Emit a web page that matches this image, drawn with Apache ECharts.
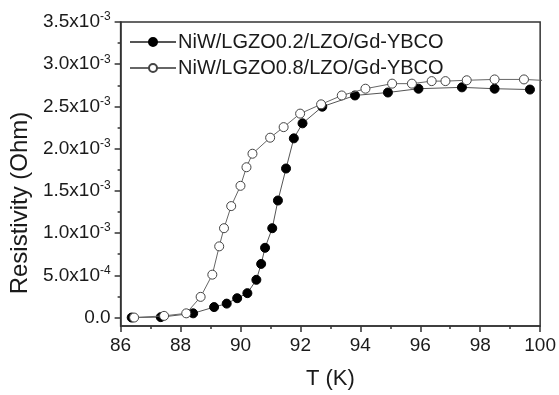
<!DOCTYPE html>
<html>
<head>
<meta charset="utf-8">
<script src="https://cdn.jsdelivr.net/npm/echarts@6/dist/echarts.min.js"></script>
<style>
  html, body { margin: 0; padding: 0; background: #fff; }
  #chart { width: 559px; height: 395px; }
</style>
</head>
<body>
<div id="chart"></div>
<script>
// 数据：温度 (K) 与电阻率 (Ohm)
const seriesNames = ["NiW/LGZO0.2/LZO/Gd-YBCO", "NiW/LGZO0.8/LZO/Gd-YBCO"];

const tempA = [86.37, 87.34, 88.42, 89.12, 89.54, 89.89, 90.23, 90.53, 90.69, 90.82, 91.06,
  91.25, 91.52, 91.78, 92.07, 92.73, 93.82, 94.92, 95.94, 97.39, 98.48, 99.66];
const resA = [0.0, 0.005e-3, 0.05e-3, 0.124e-3, 0.165e-3, 0.229e-3, 0.289e-3, 0.447e-3, 0.635e-3,
  0.826e-3, 1.058e-3, 1.386e-3, 1.765e-3, 2.122e-3, 2.30e-3, 2.497e-3, 2.63e-3, 2.665e-3,
  2.71e-3, 2.726e-3, 2.71e-3, 2.70e-3];

const tempB = [86.45, 87.45, 88.19, 88.67, 89.06, 89.29, 89.45, 89.69, 90.0, 90.2, 90.4, 90.99,
  91.44, 91.99, 92.69, 93.38, 94.17, 95.06, 95.72, 96.38, 96.84, 97.55, 98.48, 99.46, 100.6];
const resB = [0.0, 0.02e-3, 0.05e-3, 0.245e-3, 0.508e-3, 0.843e-3, 1.058e-3, 1.32e-3, 1.56e-3,
  1.78e-3, 1.94e-3, 2.13e-3, 2.255e-3, 2.415e-3, 2.525e-3, 2.63e-3, 2.71e-3, 2.77e-3, 2.77e-3,
  2.80e-3, 2.80e-3, 2.81e-3, 2.82e-3, 2.82e-3, 2.80e-3];

// 刻度
const yTicks = [0, 0.5e-3, 1.0e-3, 1.5e-3, 2.0e-3, 2.5e-3, 3.0e-3, 3.5e-3];
const yMinorTicks = [0.25e-3, 0.75e-3, 1.25e-3, 1.75e-3, 2.25e-3, 2.75e-3, 3.25e-3];

const FONT = 'Arial, "Liberation Sans", sans-serif';
const TEXT = "#1a1a1a";
const FRAME = "#333";

function pairs(xs, ys) {
  return xs.map((x, i) => [x, ys[i]]);
}

// 科学计数法标签，例如 3.5x10^-3
function sciLabel(v) {
  if (Math.abs(v) < 1e-12) return "{m|0.0}";
  let exp = Math.floor(Math.log10(Math.abs(v)) + 1e-9);
  const mant = v / Math.pow(10, exp);
  return "{m|" + mant.toFixed(1) + "x10}{e|" + exp + "}";
}

const chart = echarts.init(document.getElementById("chart"), null, { renderer: "canvas" });

const option = {
  backgroundColor: "#fff",
  animation: false,
  textStyle: { fontFamily: FONT },
  grid: {
    left: 117, right: 16, top: 22, bottom: 62,
    show: true, borderColor: FRAME, borderWidth: 1.5, backgroundColor: "transparent",
  },
  legend: {
    orient: "vertical",
    left: 124, top: 27,
    itemWidth: 46, itemHeight: 10, itemGap: 6,
    data: seriesNames,
    textStyle: { fontFamily: FONT, fontSize: 20, color: TEXT, padding: [0, 0, 0, -3] },
  },
  xAxis: {
    type: "value",
    min: 86, max: 100, interval: 2,
    name: "T (K)",
    nameLocation: "middle",
    nameGap: 42,
    nameTextStyle: { fontFamily: FONT, fontSize: 22, color: TEXT },
    axisLine: { onZero: false, lineStyle: { color: FRAME, width: 1.5 } },
    axisTick: { inside: false, length: 6, lineStyle: { color: FRAME, width: 1.5 } },
    minorTick: { show: true, splitNumber: 2, length: 3, lineStyle: { color: FRAME, width: 1.5 } },
    axisLabel: { fontFamily: FONT, fontSize: 19, color: TEXT, margin: 10 },
    splitLine: { show: false },
  },
  yAxis: [
    {
      type: "value",
      min: -0.1e-3, max: 3.5e-3,
      name: "Resistivity (Ohm)",
      nameLocation: "middle",
      nameGap: 80,
      nameTextStyle: { fontFamily: FONT, fontSize: 24, color: TEXT, padding: [0, 58, 0, 0] },
      axisLine: { onZero: false, lineStyle: { color: FRAME, width: 1.5 } },
      axisTick: { customValues: yTicks, length: 6, lineStyle: { color: FRAME, width: 1.5 } },
      axisLabel: {
        customValues: yTicks,
        margin: 10,
        fontFamily: FONT,
        fontSize: 19,
        color: TEXT,
        formatter: sciLabel,
        rich: {
          m: { fontFamily: FONT, fontSize: 19, color: TEXT },
          e: { fontFamily: FONT, fontSize: 12, color: TEXT, padding: [0, 0, 10, 0] },
        },
      },
      splitLine: { show: false },
    },
    {
      // 次刻度
      type: "value",
      min: -0.1e-3, max: 3.5e-3,
      position: "left",
      axisLine: { show: false },
      axisTick: { customValues: yMinorTicks, length: 3, lineStyle: { color: FRAME, width: 1.5 } },
      axisLabel: { show: false },
      splitLine: { show: false },
    },
  ],
  series: [
    {
      name: seriesNames[0],
      type: "line",
      data: pairs(tempA, resA),
      symbol: "circle",
      symbolSize: 9,
      lineStyle: { color: "#555", width: 1 },
      itemStyle: { color: "#000", borderColor: "#000", borderWidth: 1 },
      clip: true,
      z: 2,
    },
    {
      name: seriesNames[1],
      type: "line",
      data: pairs(tempB, resB),
      symbol: "circle",
      symbolSize: 9,
      lineStyle: { color: "#666", width: 1 },
      itemStyle: { color: "#fff", borderColor: "#444", borderWidth: 1 },
      clip: true,
      z: 3,
    },
  ],
};

chart.setOption(option);
</script>
</body>
</html>
